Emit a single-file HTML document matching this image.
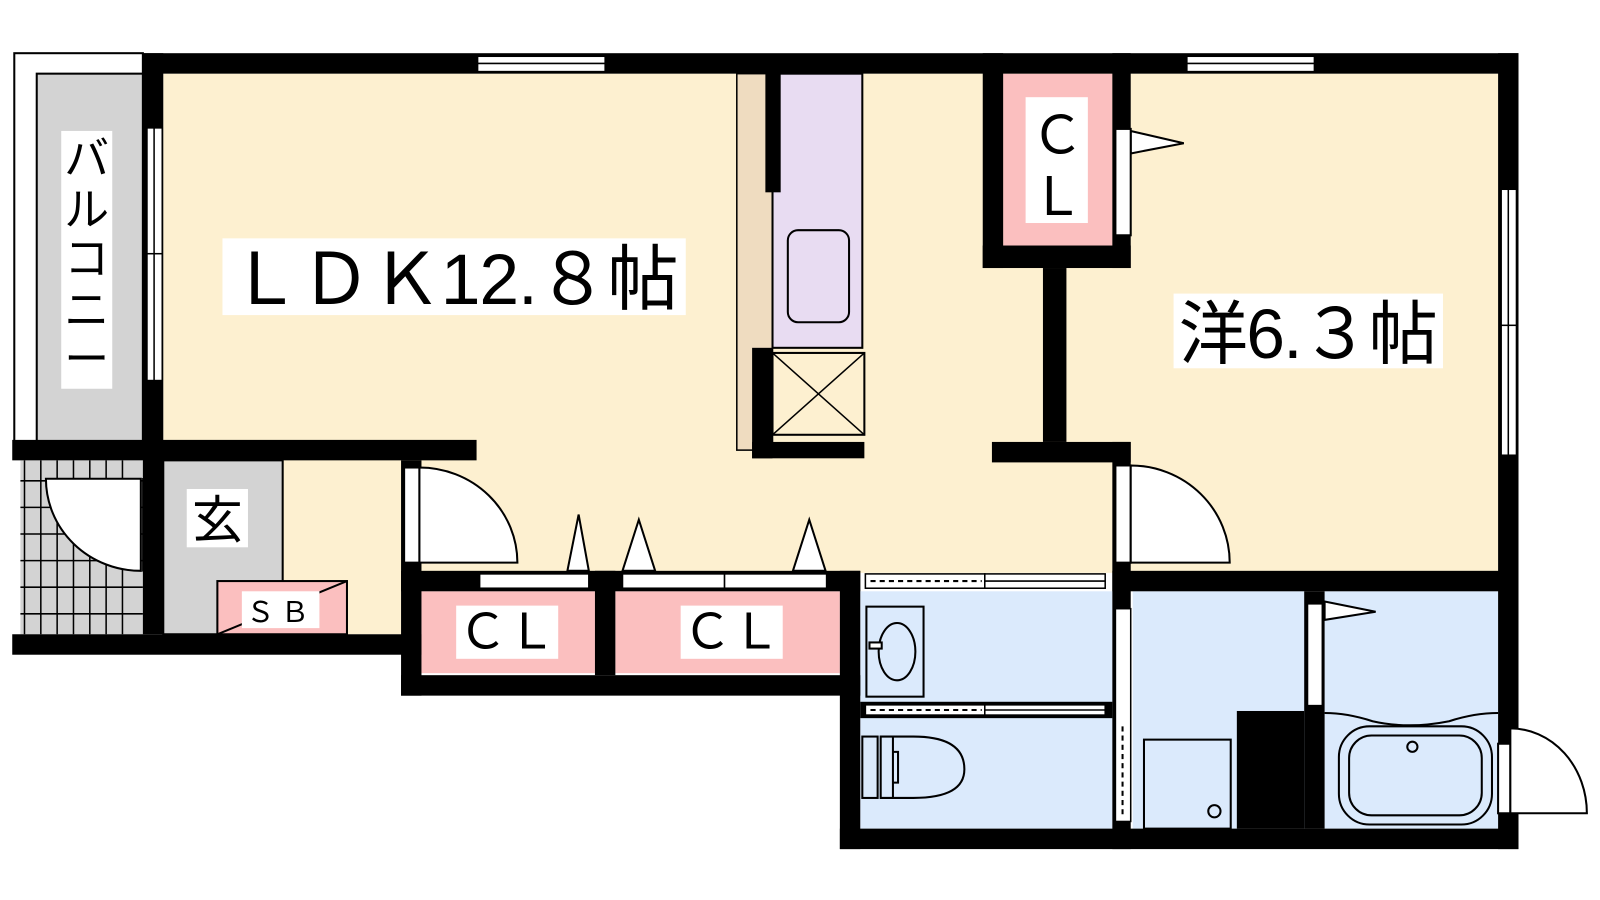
<!DOCTYPE html>
<html><head><meta charset="utf-8"><style>
html,body{margin:0;padding:0;background:#fff;}
svg{display:block}
text{font-family:"Liberation Sans","Noto Sans CJK JP",sans-serif;fill:#000}
</style></head><body>
<svg width="1600" height="900" viewBox="0 0 1600 900" xmlns="http://www.w3.org/2000/svg">
<g transform="scale(1.0205 1.023)">
<rect x="14" y="52" width="126" height="388" fill="#fff" stroke="#000" stroke-width="2"/>
<rect x="36" y="72" width="104" height="360" fill="#d3d3d3" stroke="#000" stroke-width="2"/>
<rect x="160" y="72" width="1308" height="488" fill="#fdf0d0"/>
<rect x="277" y="450" width="116" height="170" fill="#fdf0d0"/>
<rect x="160" y="450" width="117" height="170" fill="#d3d3d3" stroke="#000" stroke-width="2"/>
<rect x="20" y="450" width="120" height="170" fill="#d3d3d3"/>
<g stroke="#000" stroke-width="1.5">
<line x1="24" y1="450" x2="24" y2="620"/><line x1="40" y1="450" x2="40" y2="620"/><line x1="56" y1="450" x2="56" y2="620"/><line x1="72" y1="450" x2="72" y2="620"/><line x1="88" y1="450" x2="88" y2="620"/><line x1="104" y1="450" x2="104" y2="620"/><line x1="120" y1="450" x2="120" y2="620"/>
<line x1="20" y1="470" x2="140" y2="470"/><line x1="20" y1="496" x2="140" y2="496"/><line x1="20" y1="522" x2="140" y2="522"/><line x1="20" y1="548" x2="140" y2="548"/><line x1="20" y1="574" x2="140" y2="574"/><line x1="20" y1="600" x2="140" y2="600"/>
</g>
<path d="M138 468 L45 468 A93 90 0 0 0 138 558 Z" fill="#fff" stroke="#000" stroke-width="2"/>
<rect x="140" y="468" width="12" height="90" fill="#fff" stroke="#000" stroke-width="1.5"/>
<rect x="213" y="568" width="127" height="52" fill="#fbbfbf" stroke="#000" stroke-width="2"/>
<line x1="213" y1="620" x2="340" y2="568" stroke="#000" stroke-width="2"/>
<rect x="237" y="578" width="76" height="36" fill="#fff"/>
<text x="275" y="608" font-size="28" text-anchor="middle" letter-spacing="6">ＳＢ</text>
<rect x="722" y="72" width="35" height="368" fill="#efdcc0" stroke="#000" stroke-width="1.5"/>
<rect x="757" y="72" width="88" height="268" fill="#e8dcf2" stroke="#000" stroke-width="2"/>
<rect x="772" y="225" width="60" height="90" rx="10" fill="#e8dcf2" stroke="#000" stroke-width="2"/>
<rect x="757" y="345" width="90" height="80" fill="#fdf0d0" stroke="#000" stroke-width="2"/>
<line x1="757" y1="345" x2="847" y2="425" stroke="#000" stroke-width="1.5"/>
<line x1="847" y1="345" x2="757" y2="425" stroke="#000" stroke-width="1.5"/>
<rect x="983" y="72" width="107" height="168" fill="#fbbfbf"/>
<rect x="413" y="578" width="170" height="80" fill="#fbbfbf"/>
<rect x="603" y="578" width="220" height="80" fill="#fbbfbf"/>
<rect x="843" y="578" width="247" height="232" fill="#dbeafc"/>
<rect x="1110" y="578" width="170" height="232" fill="#dbeafc"/>
<rect x="1298" y="578" width="170" height="232" fill="#dbeafc"/>
<g fill="#000">
<rect x="140" y="52" width="1348" height="20"/>
<rect x="1468" y="52" width="20" height="778"/>
<rect x="140" y="52" width="20" height="388"/>
<rect x="12" y="430" width="455" height="20"/>
<rect x="140" y="440" width="20" height="180"/>
<rect x="12" y="620" width="401" height="20"/>
<rect x="393" y="450" width="20" height="230"/>
<rect x="393" y="660" width="450" height="20"/>
<rect x="393" y="558" width="450" height="20"/>
<rect x="583" y="558" width="20" height="102"/>
<rect x="823" y="558" width="20" height="272"/>
<rect x="823" y="810" width="665" height="20"/>
<rect x="750" y="72" width="15" height="116"/>
<rect x="737" y="340" width="20" height="108"/>
<rect x="737" y="432" width="110" height="16"/>
<rect x="963" y="52" width="20" height="210"/>
<rect x="1090" y="52" width="18" height="210"/>
<rect x="963" y="240" width="145" height="22"/>
<rect x="1022" y="262" width="23" height="170"/>
<rect x="972" y="432" width="136" height="20"/>
<rect x="1090" y="432" width="18" height="398"/>
<rect x="1090" y="558" width="398" height="20"/>
<rect x="1278" y="578" width="20" height="232"/>
<rect x="1212" y="695" width="66" height="115"/>
<rect x="843" y="686" width="247" height="16"/>
</g>
<g fill="#fff" stroke="#000" stroke-width="1.5">
<rect x="468" y="55" width="125" height="15"/><line x1="468" y1="62" x2="593" y2="62"/>
<rect x="1163" y="55" width="125" height="15"/><line x1="1163" y1="62" x2="1288" y2="62"/>
<rect x="144" y="125" width="15" height="247"/><line x1="151" y1="125" x2="151" y2="372"/><line x1="144" y1="248" x2="159" y2="248"/>
<rect x="1471" y="185" width="15" height="260"/><line x1="1478" y1="185" x2="1478" y2="445"/><line x1="1471" y1="318" x2="1486" y2="318"/>
<rect x="470" y="561" width="107" height="14"/>
<rect x="610" y="561" width="100" height="14"/><rect x="710" y="561" width="100" height="14"/>
<rect x="848" y="561" width="117" height="14"/><rect x="965" y="561" width="118" height="14"/><line x1="965" y1="568" x2="1083" y2="568"/>
<rect x="848" y="689" width="117" height="10"/><rect x="965" y="689" width="118" height="10"/><line x1="965" y1="694" x2="1083" y2="694"/>
<rect x="1093" y="595" width="15" height="208"/>
</g>
<line x1="853" y1="568" x2="962" y2="568" stroke="#000" stroke-width="2" stroke-dasharray="5 4"/>
<line x1="853" y1="694" x2="962" y2="694" stroke="#000" stroke-width="2" stroke-dasharray="5 4"/>
<line x1="1100" y1="710" x2="1100" y2="800" stroke="#000" stroke-width="2" stroke-dasharray="5 4"/>
<g fill="#fff" stroke="#000" stroke-width="2">
<path d="M556 558 L567 503 L577 558 Z"/>
<path d="M610 558 L626 508 L642 558 Z"/>
<path d="M777 558 L793 508 L809 558 Z"/>
<path d="M1108 128 L1160 140 L1108 150 Z"/>
<path d="M1298 588 L1348 598 L1298 606 Z"/>
</g>
<g fill="#fff" stroke="#000" stroke-width="2">
<rect x="396" y="457" width="15" height="93"/>
<path d="M411 457 A96 93 0 0 1 507 550 L411 550 Z"/>
<rect x="1093" y="455" width="15" height="95"/>
<path d="M1108 455 A97 95 0 0 1 1205 550 L1108 550 Z"/>
<rect x="1093" y="126" width="15" height="104"/>
<rect x="1281" y="590" width="15" height="100"/>
<rect x="1468" y="727" width="12" height="68"/>
<path d="M1480 712 A75 83 0 0 1 1555 795 L1480 795 Z"/>
</g>
<g fill="none" stroke="#000" stroke-width="2">
<rect x="849" y="593" width="56" height="88"/>
<ellipse cx="879" cy="637" rx="18" ry="28"/>
<rect x="852" y="628" width="12" height="6" fill="#fff"/>
<path d="M863 720 L895 720 Q945 720 945 752 Q945 780 895 780 L863 780 Z"/>
<line x1="875" y1="720" x2="875" y2="780"/>
<rect x="845" y="720" width="15" height="60"/>
<path d="M875 735 L880 735 L880 765 L875 765"/>
<rect x="1121" y="723" width="85" height="87"/>
<circle cx="1190" cy="793" r="6"/>
<path d="M1298 697 Q1320 697 1345 705 Q1380 713 1420 705 Q1445 697 1468 697"/>
<rect x="1312" y="710" width="150" height="96" rx="30"/>
<rect x="1322" y="719" width="130" height="78" rx="22"/>
<circle cx="1384" cy="730" r="5"/>
</g>
<rect x="218" y="233" width="454" height="75" fill="#fff"/>
<text x="445" y="297" font-size="70" text-anchor="middle" textLength="440">ＬＤＫ12.８帖</text>
<rect x="1150" y="287" width="264" height="73" fill="#fff"/>
<text x="1282" y="350" font-size="68" text-anchor="middle" textLength="254">洋6.３帖</text>
<rect x="60" y="128" width="50" height="252" fill="#fff"/>
<text x="85" y="170" font-size="44" text-anchor="middle">バ</text>
<text x="85" y="220" font-size="44" text-anchor="middle">ル</text>
<text x="85" y="268" font-size="44" text-anchor="middle">コ</text>
<text x="85" y="318" font-size="44" text-anchor="middle">ニ</text>
<text x="85" y="366" font-size="44" text-anchor="middle">ー</text>
<rect x="183" y="478" width="60" height="57" fill="#fff"/>
<text x="213" y="526" font-size="50" text-anchor="middle">玄</text>
<rect x="1005" y="95" width="61" height="123" fill="#fff"/>
<text x="1036" y="150" font-size="52" text-anchor="middle">Ｃ</text>
<text x="1036" y="210" font-size="52" text-anchor="middle">Ｌ</text>
<rect x="447" y="592" width="100" height="52" fill="#fff"/>
<text x="497" y="634" font-size="48" text-anchor="middle">ＣＬ</text>
<rect x="667" y="592" width="100" height="52" fill="#fff"/>
<text x="717" y="634" font-size="48" text-anchor="middle">ＣＬ</text>
</g>
</svg>
</body></html>
